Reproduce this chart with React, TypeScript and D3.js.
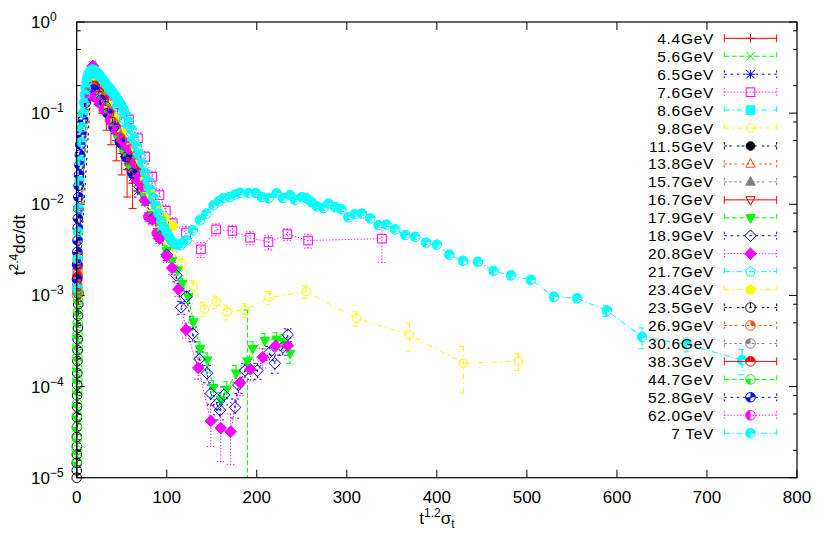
import React, { useRef, useEffect } from "react";
import * as d3 from "d3";

type Pt = [number, number, number];

// legend labels, in plotting order
const energyLabels = [
  "4.4GeV", "5.6GeV", "6.5GeV", "7.6GeV", "8.6GeV", "9.8GeV", "11.5GeV", "13.8GeV",
  "15.7GeV", "16.7GeV", "17.9GeV", "18.9GeV", "20.8GeV", "21.7GeV", "23.4GeV",
  "23.5GeV", "26.9GeV", "30.6GeV", "38.3GeV", "44.7GeV", "52.8GeV", "62.0GeV", "7 TeV",
];

// [x, y, yerr]
const gev4_4: Pt[] = [[10,0.15,0.04],[14,0.19,0.05],[18,0.2,0.05],[23,0.17,0.045],[28,0.14,0.04],[33,0.1,0.035],[38,0.075,0.03],[44,0.05,0.02],[50,0.036,0.015],[56,0.024,0.012],[62,0.017,0.008]];
const gev5_6: Pt[] = [[12,0.17,0.015],[17,0.2,0.02],[22,0.19,0.02],[27,0.16,0.015],[32,0.12,0.012],[37,0.095,0.01],[42,0.07,0.008],[47,0.055,0.006],[52,0.042,0.005],[57,0.031,0.004],[62,0.023,0.003],[67,0.017,0.003]];
const gev6_5: Pt[] = [[13,0.18,0.015],[18,0.2,0.015],[23,0.18,0.015],[28,0.15,0.012],[33,0.115,0.01],[38,0.088,0.008],[43,0.066,0.006],[48,0.05,0.005],[53,0.037,0.004],[58,0.027,0.003],[63,0.02,0.003],[68,0.014,0.002]];
const gev7_6: Pt[] = [[18,0.22,0.03],[26,0.2,0.03],[34,0.16,0.025],[42,0.125,0.02],[50,0.1,0.015],[58,0.085,0.012],[68,0.053,0.008],[76,0.033,0.005],[84,0.02,0.003],[92,0.0126,0.002],[99,0.0085,0.0013],[106.7,0.0062,0.0009],[121.4,0.0049,0.0008],[138,0.0032,0.0006],[154.8,0.0053,0.0008],[173,0.0051,0.0008],[192.6,0.0043,0.0007],[213,0.00385,0.0007],[234,0.0047,0.0007],[257,0.004,0.0007],[339,0.0042,0.0019]];
const gev8_6: Pt[] = [[14,0.2,0.02],[20,0.22,0.02],[26,0.19,0.018],[32,0.15,0.014],[38,0.115,0.01],[44,0.088,0.008],[50,0.066,0.006],[56,0.048,0.005],[62,0.034,0.004],[68,0.024,0.003],[74,0.017,0.002]];
const gev9_8: Pt[] = [[18,0.2,0.02],[26,0.16,0.015],[34,0.115,0.012],[42,0.08,0.008],[50,0.055,0.006],[58,0.037,0.004],[66,0.024,0.003],[74,0.015,0.002],[82,0.0095,0.0012],[90,0.0062,0.0008],[98,0.0042,0.0006],[106,0.003,0.0004],[116.9,0.00224,0.0003],[129.6,0.00126,0.0002],[141.8,0.00071,0.00012],[155,0.00085,0.00013],[167,0.00066,0.00012],[187,0.00069,0.00012],[214,0.00095,0.00016],[254.8,0.0011,0.00017],[310.8,0.00056,0.0001],[369.6,0.00037,0.000125],[429.6,0.00018,0.000095],[490.7,0.00019,0.00004]];
const gev11_5: Pt[] = [[16,0.19,0.02],[22,0.18,0.02],[28,0.14,0.015],[34,0.105,0.01],[40,0.08,0.008],[46,0.06,0.006],[52,0.044,0.005],[58,0.032,0.004],[64,0.023,0.003]];
const gev13_8: Pt[] = [[17,0.2,0.02],[24,0.18,0.02],[31,0.13,0.015],[38,0.095,0.01],[45,0.066,0.007],[52,0.046,0.005],[59,0.032,0.004],[66,0.022,0.003],[73,0.015,0.002]];
const gev15_7: Pt[] = [[18,0.2,0.02],[26,0.17,0.018],[34,0.125,0.013],[42,0.09,0.009],[50,0.063,0.006],[58,0.043,0.005],[66,0.028,0.003],[74,0.018,0.002],[82,0.011,0.0013],[92.6,0.0064,0.0008]];
const gev16_7: Pt[] = [[15,0.19,0.02],[21,0.2,0.02],[27,0.16,0.016],[33,0.12,0.012],[39,0.09,0.009],[45,0.066,0.007],[51,0.048,0.005],[57,0.034,0.004],[63,0.024,0.003],[69,0.017,0.002],[75,0.012,0.0015]];
const gev17_9: Pt[] = [[20,0.2,0.02],[28,0.15,0.015],[36,0.1,0.01],[44,0.068,0.007],[52,0.045,0.005],[60,0.03,0.003],[68,0.019,0.002],[76,0.012,0.0013],[84,0.0075,0.0008],[92,0.0047,0.0005],[100,0.0031,0.0004],[106,0.0024,0.0003],[112,0.0019,0.00025],[117.5,0.00135,0.0002],[124,0.00096,0.00014],[129.6,0.00051,0.00008],[137,0.00026,0.00005],[145,0.000195,0.00004],[151.8,0.000097,0.00002],[160,0.000071,0.000015],[166.7,0.000093,0.00002],[177,0.00014,0.00003],[189.6,0.00019,0.0005],[195.5,0.00026,0.00005],[209,0.00032,0.00006],[222,0.00033,0.00006],[229.6,0.00031,0.00006],[237,0.00023,0.00005]];
const gev18_9: Pt[] = [[20,0.19,0.02],[28,0.145,0.015],[36,0.1,0.01],[44,0.066,0.007],[52,0.043,0.005],[60,0.028,0.003],[68,0.018,0.002],[76,0.011,0.0012],[84,0.007,0.0008],[92,0.0044,0.0005],[100,0.0028,0.0004],[110.7,0.00166,0.00025],[116,0.00074,0.00012],[121.9,0.00097,0.00015],[128.9,0.00038,0.00007],[136.3,0.0002,0.00004],[144.8,0.00014,0.00003],[148.9,0.000084,0.00002],[155.5,0.000064,0.000015],[159.2,0.000055,0.000012],[163.7,0.000081,0.000018],[175.9,0.000059,0.000014],[179.6,0.000104,0.00002],[187,0.00015,0.00003],[200.7,0.00015,0.00003],[214,0.000235,0.00004],[220,0.00018,0.00004],[228.9,0.00027,0.00005],[234.4,0.00037,0.00006]];
const gev20_8: Pt[] = [[18,0.33,0.04],[24,0.2,0.025],[30,0.15,0.018],[36,0.105,0.012],[44,0.07,0.008],[52,0.045,0.005],[60,0.029,0.003],[68,0.018,0.002],[76,0.011,0.0012],[84,0.0068,0.0008],[92,0.0042,0.0005],[100,0.0027,0.0004],[106,0.002,0.0003],[112.9,0.00117,0.0002],[121.4,0.00042,0.00008],[135,0.00016,0.00004],[148.9,0.000042,0.00002],[160,0.000035,0.00002],[171,0.000032,0.000018],[181.5,0.00011,0.00003],[193,0.000155,0.00004],[206.6,0.00021,0.00005],[221,0.00028,0.00006],[234.4,0.00028,0.00006]];
const gev21_7: Pt[] = [[16,0.21,0.02],[22,0.21,0.02],[28,0.17,0.015],[34,0.13,0.012],[40,0.098,0.009],[46,0.073,0.007],[52,0.054,0.005],[58,0.039,0.004],[64,0.028,0.003],[70,0.02,0.002],[76,0.014,0.0015]];
const gev23_4: Pt[] = [[18,0.21,0.02],[26,0.17,0.015],[34,0.125,0.012],[42,0.09,0.008],[50,0.062,0.006],[58,0.042,0.004],[66,0.028,0.003],[74,0.019,0.002],[82,0.013,0.0014],[90,0.0092,0.001],[98,0.0071,0.0008],[107,0.0058,0.0007]];
const gev23_5: Pt[] = [[0.05,1.0e-5,0.1e-5],[0.08,1.2e-5,0.1e-5],[0.1,1.45e-5,0.1e-5],[0.13,1.8e-5,0.15e-5],[0.16,2.2e-5,0.2e-5],[0.2,2.8e-5,0.2e-5],[0.25,3.6e-5,0.3e-5],[0.3,4.6e-5,0.4e-5],[0.37,6e-5,0.5e-5],[0.45,8e-5,0.6e-5],[0.55,1.05e-4,0.8e-5],[0.65,1.4e-4,1e-5],[0.8,1.9e-4,1.4e-5],[0.95,2.5e-4,1.8e-5],[1.1,3.3e-4,2.4e-5],[1.3,4.4e-4,3e-5],[1.5,6e-4,4e-5],[1.7,8e-4,5e-5],[2.0,1.05e-3,7e-5],[16,0.19,0.015],[24,0.17,0.013],[32,0.12,0.009],[40,0.08,0.006],[48,0.054,0.004],[56,0.036,0.003]];
const gev26_9: Pt[] = [[0.4,1.0e-3,0.6e-4],[0.6,1.3e-3,0.8e-4],[0.8,1.7e-3,1e-4],[1.0,2.2e-3,1.3e-4],[1.3,2.8e-3,1.6e-4],[14,0.18,0.012],[20,0.19,0.012],[27,0.15,0.01],[34,0.11,0.008],[41,0.078,0.006],[48,0.055,0.004],[55,0.038,0.003],[62,0.026,0.002]];
const gev30_6: Pt[] = [[0.5,1.1e-3,0.7e-4],[0.7,1.5e-3,0.9e-4],[0.9,1.9e-3,1.1e-4],[1.2,2.5e-3,1.5e-4],[15,0.18,0.012],[22,0.18,0.012],[29,0.14,0.01],[36,0.1,0.007],[43,0.072,0.005],[50,0.05,0.004],[57,0.034,0.003],[64,0.023,0.002]];
const gev38_3: Pt[] = [[0.6,1.2e-3,0.7e-4],[0.9,1.6e-3,1e-4],[1.2,2.1e-3,1.3e-4],[12,0.17,0.012],[16,0.2,0.014],[20,0.2,0.014],[25,0.17,0.012],[30,0.14,0.01],[36,0.1,0.007],[42,0.072,0.005],[48,0.052,0.004],[54,0.037,0.003],[60,0.028,0.002],[66,0.024,0.002],[70,0.02,0.0016]];
const gev44_7: Pt[] = [[0.1,1.5e-5,0.1e-5],[0.15,2e-5,0.15e-5],[0.2,2.7e-5,0.2e-5],[0.25,3.6e-5,0.3e-5],[0.3,4.8e-5,0.4e-5],[0.4,6.5e-5,0.5e-5],[0.5,9e-5,0.6e-5],[0.6,1.2e-4,0.8e-5],[0.7,1.6e-4,1e-5],[0.8,2.1e-4,1.4e-5],[0.9,2.8e-4,1.8e-5],[1.0,3.7e-4,2.4e-5],[1.2,5e-4,3e-5],[1.4,6.6e-4,4e-5],[1.6,8.8e-4,5e-5],[1.8,1.1e-3,7e-5],[12,0.19,0.012],[18,0.19,0.012],[25,0.16,0.01],[32,0.115,0.008],[39,0.082,0.006],[46,0.058,0.004],[53,0.04,0.003],[60,0.027,0.002]];
const gev52_8: Pt[] = [[0.3,1.5e-3,1e-4],[0.5,2.2e-3,1.4e-4],[0.7,3e-3,1.8e-4],[0.9,4e-3,2.4e-4],[1.1,5.5e-3,3e-4],[1.3,7e-3,4e-4],[1.6,9e-3,5e-4],[1.9,0.012,7e-4],[2.2,0.016,9e-4],[2.6,0.021,0.0012],[3.0,0.027,0.0015],[3.5,0.035,0.002],[4,0.045,0.0025],[5,0.058,0.003],[7,0.085,0.005],[10,0.13,0.008],[15,0.18,0.011],[20,0.18,0.011],[27,0.14,0.009],[34,0.1,0.007],[41,0.07,0.005],[48,0.048,0.004],[55,0.033,0.003],[62,0.022,0.002]];
const gev62_0: Pt[] = [[13,0.15,0.01],[16,0.16,0.01],[20,0.15,0.01],[25,0.13,0.009],[30,0.11,0.008],[37,0.084,0.006],[44,0.065,0.005],[50,0.051,0.004],[55,0.043,0.003],[59,0.04,0.003],[65,0.028,0.002],[70,0.02,0.0016],[74,0.0156,0.0013],[79.6,0.0073,0.0008],[88.9,0.0048,0.0006]];
const tev7: Pt[] = [[0.5,0.0012,0.0001],[1,0.0025,0.0002],[1.5,0.005,0.0003],[2,0.009,0.0005],[3,0.018,0.001],[4,0.03,0.0015],[5,0.048,0.002],[6,0.07,0.003],[7,0.1,0.004],[8,0.13,0.005],[9,0.16,0.006],[10,0.19,0.007],[11,0.22,0.008],[12,0.245,0.009],[13,0.265,0.01],[14,0.28,0.01],[15,0.29,0.011],[16,0.295,0.011],[17,0.3,0.011],[18,0.3,0.011],[20,0.295,0.011],[22,0.285,0.011],[24,0.27,0.01],[26,0.255,0.01],[28,0.24,0.009],[30,0.225,0.009],[32,0.212,0.008],[34,0.2,0.008],[36,0.19,0.007],[38,0.18,0.007],[40,0.17,0.007],[43,0.155,0.006],[46,0.14,0.006],[49,0.125,0.005],[52,0.11,0.005],[55,0.095,0.004],[58,0.08,0.004],[61,0.066,0.003],[64,0.053,0.003],[67,0.043,0.002],[70,0.035,0.002],[73,0.028,0.0015],[76,0.022,0.0012],[79,0.018,0.001],[82,0.0145,0.0008],[85,0.0118,0.0007],[88,0.0096,0.0005],[91,0.0079,0.0004],[94,0.0066,0.0004],[97,0.0056,0.0003],[100,0.0049,0.0003],[103,0.0043,0.0002],[106,0.0039,0.0002],[109,0.0037,0.0002],[112,0.0036,0.0002],[115,0.00356,0.0002],[118,0.0038,0.0002],[122,0.00405,0.0002],[129,0.0052,0.0003],[137,0.0067,0.0003],[144,0.0079,0.0004],[152,0.0098,0.0005],[158,0.0108,0.0005],[163,0.0117,0.0006],[170,0.012,0.0006],[176,0.0128,0.0006],[181.5,0.0134,0.0007],[190.8,0.0133,0.0007],[199,0.0133,0.0007],[205.5,0.012,0.0006],[213,0.0117,0.0006],[222,0.0132,0.0007],[229,0.0117,0.0006],[237,0.0126,0.0006],[242.6,0.0112,0.0006],[250,0.012,0.0006],[255.6,0.0116,0.0006],[261,0.0105,0.0005],[266.7,0.0095,0.0005],[274,0.0091,0.0005],[279.6,0.0102,0.0005],[287,0.0093,0.0005],[294,0.0088,0.0005],[301.8,0.0072,0.0004],[309,0.0078,0.0004],[316.7,0.0079,0.0004],[326,0.007,0.0004],[335,0.0059,0.0003],[344,0.006,0.0003],[353.7,0.0053,0.0003],[364.8,0.0046,0.0003],[376,0.0044,0.0003],[388,0.0038,0.0002],[400,0.0036,0.0002],[414,0.0028,0.0002],[429,0.0024,0.0002],[445.5,0.00234,0.0002],[463,0.00186,0.00015],[482.6,0.00166,0.00014],[504.4,0.00148,0.00013],[530,0.00097,0.0001],[556,0.00093,0.0001],[589,0.00068,0.00009],[628,0.00035,0.00009],[677.8,0.00029,0.00005],[739,0.000195,0.00006]];

const seriesData: Pt[][] = [
  gev4_4, gev5_6, gev6_5, gev7_6, gev8_6, gev9_8, gev11_5, gev13_8, gev15_7, gev16_7,
  gev17_9, gev18_9, gev20_8, gev21_7, gev23_4, gev23_5, gev26_9, gev30_6, gev38_3,
  gev44_7, gev52_8, gev62_0, tev7,
];

const xTicks = [0, 100, 200, 300, 400, 500, 600, 700, 800];
const yDecades = [-5, -4, -3, -2, -1, 0];
const yMinorSteps = [2, 5, 8];

// gnuplot postscript line types
const lineColors = ["#ff0000", "#00ff00", "#0000ff", "#ff00ff", "#00ffff", "#ffff00", "#000000", "#ff4d00", "#808080"];
const lineDashes = ["", "5,2.5", "2.5,3.75", "1.25,1.9", "6,2.5,1.25,2.5", "5,3.75,1.25,3.75", "2.5,2.5,2.5,5", "2.5,2.5,2.5,2.5,2.5,5", "2.5,2.5,2.5,2.5,2.5,2.5,2.5,5"];

const W = 830;
const H = 554;
const L = 76.7;
const R = 797;
const T = 22;
const B = 477.7;
const FONT = '"Liberation Sans", Arial, Helvetica, sans-serif';

const drawMarker = (g: any, pt: number, cx: number, cy: number, color: string) => {
  const h = 4.3;
  const m = g.append("g")
    .attr("transform", `translate(${cx},${cy})`)
    .attr("stroke", color)
    .attr("stroke-width", 1)
    .attr("fill", "none");
  const poly = (pts: number[][], fill: boolean) =>
    m.append("polygon")
      .attr("points", pts.map((p) => p.join(",")).join(" "))
      .attr("fill", fill ? color : "none");

  if (pt === 1) {
    m.append("path").attr("d", `M${-h},0H${h}M0,${-h}V${h}`);
  } else if (pt === 2) {
    m.append("path").attr("d", `M${-h},${-h}L${h},${h}M${-h},${h}L${h},${-h}`);
  } else if (pt === 3) {
    m.append("path").attr("d", `M${-h},0H${h}M0,${-h}V${h}M${-h},${-h}L${h},${h}M${-h},${h}L${h},${-h}`);
  } else if (pt === 4 || pt === 5) {
    m.append("rect").attr("x", -h).attr("y", -h).attr("width", 2 * h).attr("height", 2 * h)
      .attr("fill", pt === 5 ? color : "none");
  } else if (pt === 6 || pt === 7) {
    m.append("circle").attr("r", h).attr("fill", pt === 7 ? color : "none");
  } else if (pt === 8 || pt === 9) {
    const s = h * 1.25;
    poly([[0, -s], [s * 0.87, s * 0.6], [-s * 0.87, s * 0.6]], pt === 9);
  } else if (pt === 10 || pt === 11) {
    const s = h * 1.25;
    poly([[0, s], [s * 0.87, -s * 0.6], [-s * 0.87, -s * 0.6]], pt === 11);
  } else if (pt === 12 || pt === 13) {
    const s = h * 1.35;
    poly([[0, -s], [s, 0], [0, s], [-s, 0]], pt === 13);
  } else if (pt === 14 || pt === 15) {
    const s = h * 1.2;
    const pts = d3.range(5).map((k) => {
      const a = -Math.PI / 2 + (k * 2 * Math.PI) / 5;
      return [s * Math.cos(a), s * Math.sin(a)];
    });
    poly(pts, pt === 15);
  } else {
    // circles with quadrant fills (C0..C7)
    const code = pt - 16;
    const r = 4.8;
    const quads = [[0, Math.PI / 2], [-Math.PI / 2, 0], [Math.PI, 1.5 * Math.PI]];
    quads.forEach((q, k) => {
      if (code & (1 << k)) {
        m.append("path")
          .attr("d", d3.arc()({ innerRadius: 0, outerRadius: r, startAngle: q[0], endAngle: q[1] } as any))
          .attr("fill", color)
          .attr("stroke", "none");
      }
    });
    m.append("circle").attr("r", r);
    if (code === 0) m.append("line").attr("x1", 0).attr("y1", 0).attr("x2", 0).attr("y2", -r);
  }
};

const App = () => {
  const svgRef = useRef<SVGSVGElement | null>(null);

  useEffect(() => {
    if (!svgRef.current) return;
    const svg = d3.select(svgRef.current);
    svg.selectAll("*").remove();

    const x = d3.scaleLinear().domain([0, 800]).range([L, R]);
    const y = d3.scaleLog().domain([1e-5, 1]).range([B, T]);

    svg.append("rect").attr("width", W).attr("height", H).attr("fill", "#fff");
    svg.append("defs").append("clipPath").attr("id", "plotclip")
      .append("rect").attr("x", L).attr("y", T).attr("width", R - L).attr("height", B - T);

    // ticks (inward, mirrored)
    const ticks = svg.append("g").attr("stroke", "#000").attr("stroke-width", 1);
    ticks.selectAll(".xb").data(xTicks).join("line")
      .attr("x1", (d) => x(d)).attr("x2", (d) => x(d)).attr("y1", B).attr("y2", B - 8);
    ticks.selectAll(".xt").data(xTicks).join("line")
      .attr("x1", (d) => x(d)).attr("x2", (d) => x(d)).attr("y1", T).attr("y2", T + 8);
    const yMajor = yDecades.map((p) => Math.pow(10, p));
    const yMinor = yDecades.slice(0, -1).flatMap((p) => yMinorSteps.map((s) => s * Math.pow(10, p)));
    [[L, 1], [R, -1]].forEach(([x0, dir]) => {
      ticks.append("g").selectAll("line").data(yMajor).join("line")
        .attr("x1", x0).attr("x2", x0 + dir * 8).attr("y1", (d) => y(d)).attr("y2", (d) => y(d));
      ticks.append("g").selectAll("line").data(yMinor).join("line")
        .attr("x1", x0).attr("x2", x0 + dir * 4).attr("y1", (d) => y(d)).attr("y2", (d) => y(d));
    });

    // tick labels
    svg.append("g").selectAll("text").data(xTicks).join("text")
      .attr("x", (d) => x(d)).attr("y", 503)
      .attr("text-anchor", "middle")
      .attr("font-family", FONT).attr("font-size", 17)
      .text((d) => String(d));
    const yl = svg.append("g").selectAll("text").data(yDecades).join("text")
      .attr("x", 31).attr("y", (d) => y(Math.pow(10, d)) + 6)
      .attr("font-family", FONT).attr("font-size", 17);
    yl.append("tspan").text("10");
    yl.append("tspan").attr("dy", -7).attr("font-size", 12)
      .text((d) => (d === 0 ? "0" : "\u2212" + -d));

    // axis titles
    const yt = svg.append("text")
      .attr("transform", "translate(25,245) rotate(-90)")
      .attr("text-anchor", "middle")
      .attr("font-family", FONT).attr("font-size", 17);
    yt.append("tspan").text("t");
    yt.append("tspan").attr("dy", -7).attr("font-size", 12).text("2.4");
    yt.append("tspan").attr("dy", 7).text("d\u03c3/dt");

    const xt = svg.append("text")
      .attr("x", 437).attr("y", 524)
      .attr("text-anchor", "middle")
      .attr("font-family", FONT).attr("font-size", 17);
    xt.append("tspan").text("t");
    xt.append("tspan").attr("dy", -7).attr("font-size", 12).text("1.2");
    xt.append("tspan").attr("dy", 7).text("\u03c3");
    xt.append("tspan").attr("dy", 4).attr("font-size", 12).text("t");

    // data: lines and error bars clipped, points drawn whole when inside the range
    const plot = svg.append("g").attr("clip-path", "url(#plotclip)");
    const pts = svg.append("g");
    const line = d3.line<Pt>().x((d) => x(d[0])).y((d) => y(d[1]));
    const inRange = (d: Pt) => d[0] >= 0 && d[0] <= 800 && d[1] >= 1e-5 && d[1] <= 1;
    seriesData.forEach((data, i) => {
      const color = lineColors[i % 9];
      const dash = lineDashes[i % 9];
      const g = plot.append("g");
      g.append("path").datum(data).attr("d", line)
        .attr("fill", "none").attr("stroke", color).attr("stroke-width", 1)
        .attr("stroke-dasharray", dash);
      const eb = g.append("g").attr("stroke", color).attr("stroke-width", 1).attr("stroke-dasharray", dash);
      data.forEach((d) => {
        const cx = x(d[0]);
        const hi = y(d[1] + d[2]);
        const loOk = d[1] - d[2] > 0;
        const lo = loOk ? y(d[1] - d[2]) : B + 10;
        eb.append("line").attr("x1", cx).attr("x2", cx).attr("y1", hi).attr("y2", lo);
        eb.append("line").attr("x1", cx - 4).attr("x2", cx + 4).attr("y1", hi).attr("y2", hi);
        if (loOk) eb.append("line").attr("x1", cx - 4).attr("x2", cx + 4).attr("y1", lo).attr("y2", lo);
      });
      const pg = pts.append("g");
      data.filter(inRange).forEach((d) => drawMarker(pg, i + 1, x(d[0]), y(d[1]), color));
    });

    // frame
    svg.append("rect").attr("x", L).attr("y", T).attr("width", R - L).attr("height", B - T)
      .attr("fill", "none").attr("stroke", "#000").attr("stroke-width", 1.2);

    // legend
    const leg = svg.append("g");
    energyLabels.forEach((lab, i) => {
      const ly = 38.3 + i * 17.95;
      const color = lineColors[i % 9];
      const dash = lineDashes[i % 9];
      leg.append("text").attr("x", 714).attr("y", ly + 5.5)
        .attr("text-anchor", "end")
        .attr("font-family", FONT).attr("font-size", 15.5)
        .attr("letter-spacing", 0.7)
        .text(lab);
      const s = leg.append("g").attr("stroke", color).attr("stroke-width", 1).attr("stroke-dasharray", dash);
      s.append("line").attr("x1", 724.3).attr("x2", 776.7).attr("y1", ly).attr("y2", ly);
      s.append("line").attr("x1", 724.3).attr("x2", 724.3).attr("y1", ly - 4).attr("y2", ly + 4);
      s.append("line").attr("x1", 776.7).attr("x2", 776.7).attr("y1", ly - 4).attr("y2", ly + 4);
      drawMarker(leg, i + 1, 750.5, ly, color);
    });
  }, []);

  return (
    <svg
      ref={svgRef}
      width={W}
      height={H}
      style={{ position: "absolute", left: 0, top: 0, display: "block" }}
    />
  );
};

export default App;
